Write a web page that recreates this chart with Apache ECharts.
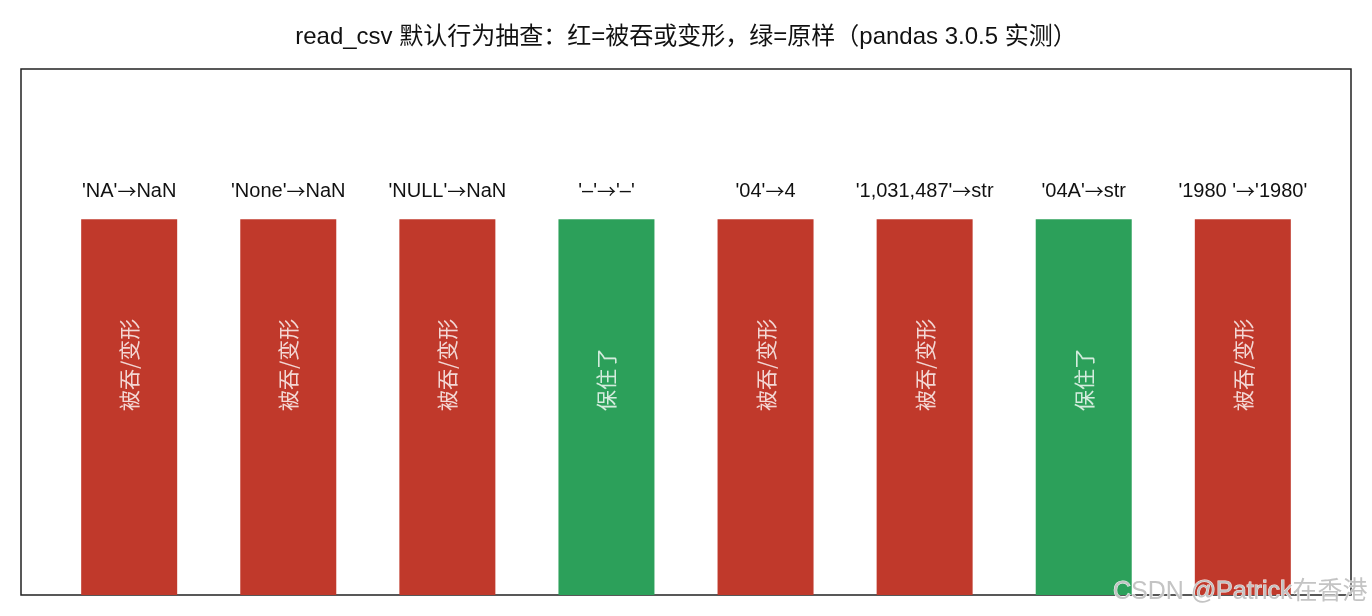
<!DOCTYPE html>
<html>
<head>
<meta charset="utf-8">
<script src="https://cdn.jsdelivr.net/npm/echarts@6/dist/echarts.min.js"></script>
<style>html,body{margin:0;padding:0;background:#fff}#c{width:1372px;height:616px}</style>
</head>
<body>
<div id="c"></div>
<script>
const categories = ["'NA'→NaN", "'None'→NaN", "'NULL'→NaN", "'–'→'–'", "'04'→4", "'1,031,487'→str", "'04A'→str", "'1980 '→'1980'"];
const values = [1, 1, 1, 1, 1, 1, 1, 1];
const kept = [false, false, false, true, false, false, true, false];
const innerText = ["被吞/变形", "被吞/变形", "被吞/变形", "保住了", "被吞/变形", "被吞/变形", "保住了", "被吞/变形"];
const innerY = [0.49, 0.49, 0.49, 0.49, 0.49, 0.49, 0.49, 0.49];
const RED = '#c0392b', GREEN = '#2ca05a';
const FONT = 'Liberation Sans, Noto Sans CJK SC, sans-serif';
const CJK = 'Noto Sans CJK SC';

const chart = echarts.init(document.getElementById('c'));
chart.setOption({
  animation: false,
  backgroundColor: '#fff',
  title: {
    text: 'read_csv 默认行为抽查：红=被吞或变形，绿=原样（pandas 3.0.5 实测）',
    left: 'center', top: 20,
    textStyle: { fontSize: 24, fontWeight: 'normal', color: '#111', fontFamily: FONT }
  },
  grid: { left: 21, right: 21, top: 69, bottom: 21, show: true, borderColor: '#222', borderWidth: 1.5, backgroundColor: 'transparent' },
  xAxis: { type: 'value', min: -0.68, max: 7.68, show: false },
  yAxis: { type: 'value', min: 0, max: 1.4, show: false },
  series: [
    {
      type: 'bar',
      barWidth: 96,
      z: 2,
      data: values.map((v, i) => ({ value: [i, v], itemStyle: { color: kept[i] ? GREEN : RED } })),
      label: {
        show: true, position: 'top', distance: 18,
        formatter: p => categories[p.dataIndex].split('→').join('{a|→}'),
        fontSize: 20, color: '#111', fontFamily: FONT,
        rich: { a: { fontFamily: CJK, fontSize: 19, color: '#111' } }
      }
    },
    {
      type: 'scatter',
      z: 5,
      symbolSize: 1,
      itemStyle: { color: 'rgba(0,0,0,0)' },
      data: innerY.map((v, i) => [i, v]),
      label: {
        show: true, position: 'inside', rotate: 90, align: 'left', verticalAlign: 'middle',
        formatter: p => innerText[p.dataIndex],
        color: '#fff', fontSize: 21, fontFamily: CJK
      }
    }
  ],
  graphic: [{
    type: 'text', right: 4, top: 579, z: 100,
    style: { text: 'CSDN @Patrick在香港', fill: '#c4c4c4', stroke: 'rgba(255,255,255,0.9)', lineWidth: 1, font: '25px ' + FONT }
  }]
});
</script>
</body>
</html>
